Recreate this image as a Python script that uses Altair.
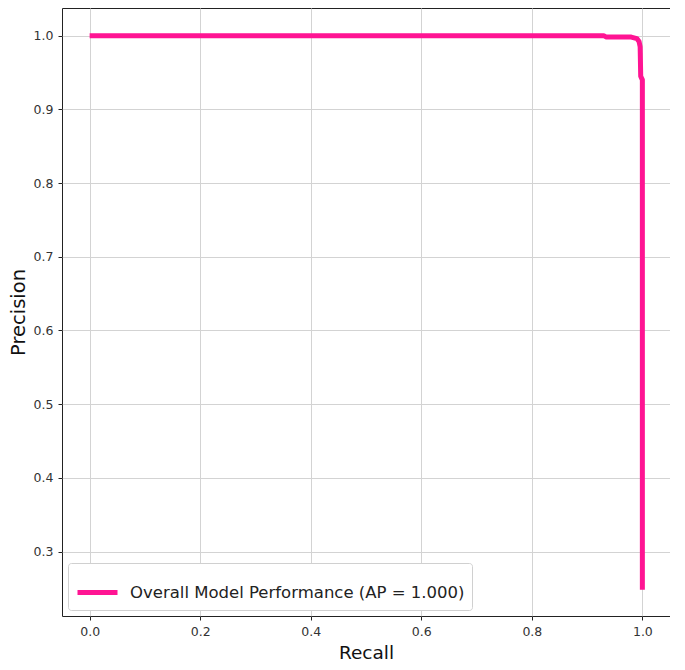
import altair as alt
import pandas as pd

recall = [0.0, 0.50, 0.930, 0.935, 0.980, 0.990, 0.994, 0.996, 0.997, 1.0, 1.0]
precision = [1.0, 1.0, 1.0, 0.998, 0.998, 0.996, 0.992, 0.985, 0.945, 0.94, 0.248]
series_name = "Overall Model Performance (AP = 1.000)"

df = pd.DataFrame({
    "Recall": recall,
    "Precision": precision,
    "order": list(range(len(recall))),
    "series": [series_name] * len(recall),
})

x_ticks = [0.0, 0.2, 0.4, 0.6, 0.8, 1.0]
y_ticks = [0.3, 0.4, 0.5, 0.6, 0.7, 0.8, 0.9, 1.0]

chart = alt.Chart(df).mark_line(strokeWidth=5, strokeCap="butt", strokeJoin="round").encode(
    x=alt.X("Recall:Q",
            scale=alt.Scale(domain=[-0.05, 1.05], nice=False, zero=False),
            axis=alt.Axis(values=x_ticks, format=".1f", title="Recall")),
    y=alt.Y("Precision:Q",
            scale=alt.Scale(domain=[0.2125, 1.0375], nice=False, zero=False),
            axis=alt.Axis(values=y_ticks, format=".1f", title="Precision")),
    order="order:Q",
    color=alt.Color("series:N",
                    scale=alt.Scale(range=["#ff1493"]),
                    legend=alt.Legend(title=None, orient="bottom-left", offset=6)),
).properties(width=608, height=608, padding=0).configure(
    font="DejaVu Sans",
).configure_view(
    stroke="#222", strokeWidth=1,
).configure_axis(
    grid=True, gridColor="#d3d3d3", gridWidth=1,
    domain=False,
    tickColor="#222", tickSize=4, tickWidth=1,
    labelFont="DejaVu Sans", labelFontSize=12.5, labelColor="#333", labelPadding=5,
    titleFont="DejaVu Sans", titleFontWeight="normal", titleColor="#111",
).configure_axisY(
    titlePadding=5, titleFontSize=19.5,
).configure_axisX(
    titlePadding=6, titleFontSize=18.5,
).configure_legend(
    fillColor="white", strokeColor="#d0d0d0", cornerRadius=3,
    padding=7,
    labelFont="DejaVu Sans", labelFontSize=16.5, labelColor="#222", labelLimit=0,
    symbolType="stroke", symbolStrokeWidth=5, symbolSize=1600,
    labelOffset=10,
)

chart.save("out.html", embed_options={"renderer": "svg", "actions": False})
